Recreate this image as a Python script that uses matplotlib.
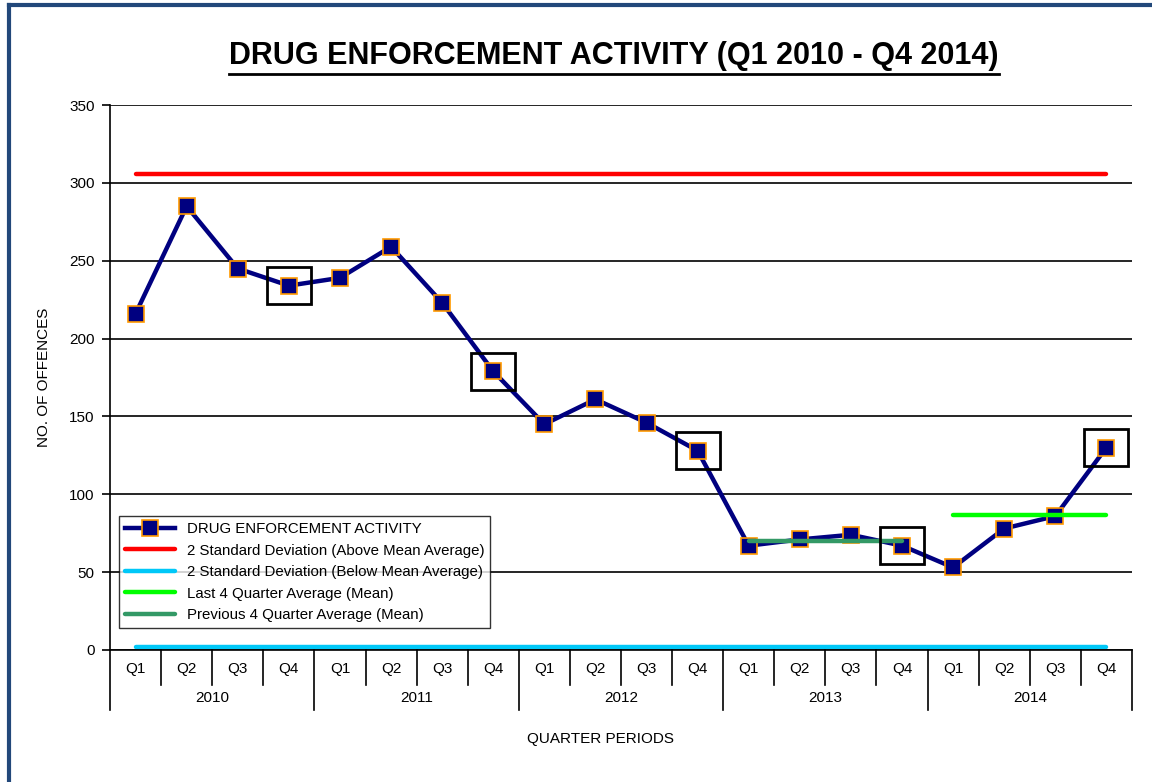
import matplotlib
matplotlib.use('Agg')
import matplotlib.pyplot as plt
from matplotlib.lines import Line2D
from matplotlib.patches import Rectangle
import numpy as np

plt.rcParams['font.family'] = ['Liberation Sans', 'DejaVu Sans']

# data
years = ['2010', '2011', '2012', '2013', '2014']
quarters = ['Q1', 'Q2', 'Q3', 'Q4']
offences = [216, 285, 245, 234, 239, 259, 223, 179, 145, 161, 146, 128,
            67, 71, 74, 67, 53, 78, 86, 130]
upper_2sd = 306
lower_2sd = 2
highlight = [3, 7, 11, 15, 19]  # boxed points (each Q4)

n = len(offences)
x = np.arange(n)
last4_mean = np.mean(offences[-4:])
prev4_mean = np.mean(offences[-8:-4])

fig = plt.figure(figsize=(11.52, 7.82), dpi=100)
ax = fig.add_axes([0.0955, 0.1688, 0.8871, 0.6969])

ax.plot(x, offences, color='#000080', lw=3.2, marker='s', ms=11,
        mfc='#000080', mec='#FF9900', mew=1.2, zorder=3,
        label='DRUG ENFORCEMENT ACTIVITY')
ax.plot(x, [upper_2sd] * n, color='#FF0000', lw=3.2, solid_capstyle='round',
        zorder=2, label='2 Standard Deviation (Above Mean Average)')
ax.plot(x, [lower_2sd] * n, color='#00C8F8', lw=3.2, solid_capstyle='round',
        zorder=2, label='2 Standard Deviation (Below Mean Average)')
ax.plot(x[-4:], [last4_mean] * 4, color='#00FF00', lw=3.2,
        solid_capstyle='round', zorder=4, label='Last 4 Quarter Average (Mean)')
ax.plot(x[-8:-4], [prev4_mean] * 4, color='#339966', lw=3.2,
        solid_capstyle='round', zorder=4,
        label='Previous 4 Quarter Average (Mean)')

for i in highlight:
    ax.add_patch(Rectangle((x[i] - 0.43, offences[i] - 12), 0.86, 24,
                           fill=False, ec='black', lw=2, zorder=5))

ax.set_xlim(-0.5, n - 0.5)
ax.set_ylim(0, 350)
ax.set_yticks(np.arange(0, 351, 50))
ax.yaxis.grid(True, color='black', lw=1.2)
ax.set_axisbelow(True)
for s in ['top', 'right']:
    ax.spines[s].set_visible(False)
ax.spines['left'].set_linewidth(1.2)
ax.spines['bottom'].set_linewidth(1.2)
ax.tick_params(axis='y', direction='out', length=6, width=1.2, labelsize=11, pad=5)
ax.set_xticks([])

# two-level category axis
trans = ax.get_xaxis_transform()
for i in range(n):
    ax.text(x[i], -0.035, quarters[i % 4], transform=trans, ha='center',
            va='center', fontsize=11)
for b in range(n + 1):
    depth = -0.11 if b % 4 == 0 else -0.064
    ax.add_line(Line2D([b - 0.5, b - 0.5], [0, depth], transform=trans,
                       color='black', lw=1.2, clip_on=False))
for k, yr in enumerate(years):
    ax.text(4 * k + 1.5, -0.088, yr, transform=trans, ha='center',
            va='center', fontsize=11)

ax.set_ylabel('NO. OF OFFENCES', fontsize=11, labelpad=13)
fig.text(0.521, 0.055, 'QUARTER PERIODS', ha='center', va='center', fontsize=11)

leg = ax.legend(loc='lower left', bbox_to_anchor=(0.009, 0.04), fontsize=10.8,
                frameon=True, fancybox=False, handlelength=3.3,
                labelspacing=0.5, borderpad=0.4, borderaxespad=0)
leg.get_frame().set_edgecolor('black')
leg.get_frame().set_linewidth(1)

title = fig.text(0.533, 0.929, 'DRUG ENFORCEMENT ACTIVITY (Q1 2010 - Q4 2014)',
                 ha='center', va='center', fontsize=22, fontweight='bold',
                 family=['Liberation Sans Narrow', 'Liberation Sans', 'DejaVu Sans'])
fig.canvas.draw()
bb = title.get_window_extent().transformed(fig.transFigure.inverted())
fig.add_artist(Line2D([bb.x0, bb.x1], [bb.y0 - 0.004, bb.y0 - 0.004],
                      transform=fig.transFigure, color='black', lw=2))

# dark blue frame (top and left)
fig.add_artist(Line2D([0.008, 0.008], [0, 0.993], transform=fig.transFigure,
                      color='#22487A', lw=3))
fig.add_artist(Line2D([0.008, 1], [0.993, 0.993], transform=fig.transFigure,
                      color='#22487A', lw=3))

fig.savefig('out.png', dpi=100)
